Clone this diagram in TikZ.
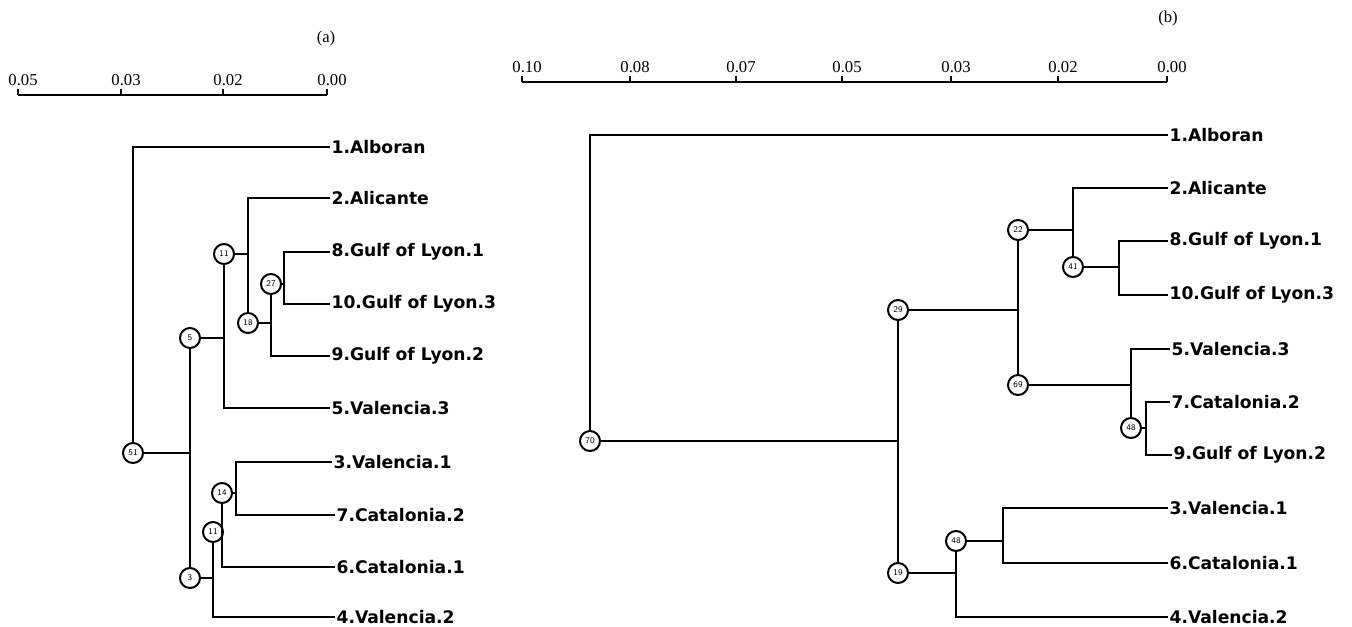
\documentclass[tikz,border=0pt]{standalone}
\usepackage{fontspec}
\setmainfont{Liberation Serif}
\newfontfamily\leaffont{DejaVu Sans Condensed}[FakeStretch=1.1]
\begin{document}
\begin{tikzpicture}[x=0.75pt,y=-0.75pt,
  branch/.style={line width=1.4pt},
  bnode/.style={circle,draw,line width=1.5pt,minimum size=15pt,inner sep=0pt,fill=white,font=\fontsize{6.5}{7}\selectfont\sffamily},
  leaf/.style={anchor=west,inner sep=1pt,font=\leaffont\bfseries\fontsize{13}{14}\selectfont},
  ticklab/.style={inner sep=0pt,font=\fontsize{12.5}{13}\selectfont},
  axis/.style={line width=1.3pt}]
\useasboundingbox (0,0) rectangle (1352,626);
% ---------------- panel (a) ----------------
\node[ticklab] (alab) at (326,38) {(a)};
\coordinate (aa0) at (18,95);
\coordinate (aa3) at (327,95);
\draw[axis] (aa0) -- (aa3);
\foreach \x/\t [count=\i] in {18/0.05,121/0.03,223/0.02,327/0.00}{
  \coordinate (at\i) at (\x,95);
  \draw[axis] (at\i) -- ++(0,-6);
  \node[ticklab] (atl\i) at (\x+5,80) {\t};
}
\node[bnode] (a51) at (133,453) {51};
\node[bnode] (a5) at (190,338) {5};
\node[bnode] (a11) at (224,254) {11};
\node[bnode] (a18) at (248,323) {18};
\node[bnode] (a27) at (271,284) {27};
\node[bnode] (a14) at (222,493) {14};
\node[bnode] (a11b) at (213,532) {11};
\node[bnode] (a3) at (190,578) {3};
\node[leaf] (aL1) at (330,147) {1.Alboran};
\node[leaf] (aL2) at (330,198) {2.Alicante};
\node[leaf] (aL8) at (330,252) {8.Gulf of Lyon.1};
\node[leaf] (aL10) at (330,304) {10.Gulf of Lyon.3};
\node[leaf] (aL9) at (330,356) {9.Gulf of Lyon.2};
\node[leaf] (aL5) at (330,408) {5.Valencia.3};
\node[leaf] (aL3) at (332,462) {3.Valencia.1};
\node[leaf] (aL7) at (335,515) {7.Catalonia.2};
\node[leaf] (aL6) at (335,567) {6.Catalonia.1};
\node[leaf] (aL4) at (335,617) {4.Valencia.2};
\coordinate (ja) at (284,278);
\coordinate (jb) at (236,488);
\begin{scope}[branch]
\draw (a51) |- (aL1);
\draw (a51) -- (a51 -| a5);
\draw (a5) -- (a3);
\draw (a5) -- (a5 -| a11);
\draw (a11) |- (aL5);
\draw (a11) -- (a11 -| a18);
\draw (a18) |- (aL2);
\draw (a18) -- (a18 -| a27);
\draw (a27) |- (aL9);
\draw (a27) -- (a27 -| ja);
\draw (aL8) -| (ja) |- (aL10);
\draw (a3) -- (a3 -| a11b);
\draw (a11b) |- (aL4);
\draw (a11b) -- (a11b -| a14);
\draw (a14) |- (aL6);
\draw (a14) -- (a14 -| jb);
\draw (aL3) -| (jb) |- (aL7);
\end{scope}
% ---------------- panel (b) ----------------
\node[ticklab] (blab) at (1168,18) {(b)};
\coordinate (ba0) at (522,82);
\coordinate (ba6) at (1167,82);
\draw[axis] (ba0) -- (ba6);
\foreach \x/\t [count=\i] in {522/0.10,630/0.08,736/0.07,842/0.05,951/0.03,1058/0.02,1167/0.00}{
  \coordinate (bt\i) at (\x,82);
  \draw[axis] (bt\i) -- ++(0,-6);
  \node[ticklab] (btl\i) at (\x+5,67) {\t};
}
\node[bnode] (b70) at (590,441) {70};
\node[bnode] (b29) at (898,310) {29};
\node[bnode] (b19) at (898,573) {19};
\node[bnode] (b22) at (1018,230) {22};
\node[bnode] (b69) at (1018,385) {69};
\node[bnode] (b41) at (1073,267) {41};
\node[bnode] (b48) at (1131,428) {48};
\node[bnode] (b48b) at (956,541) {48};
\node[leaf] (bL1) at (1168,135) {1.Alboran};
\node[leaf] (bL2) at (1168,188) {2.Alicante};
\node[leaf] (bL8) at (1168,241) {8.Gulf of Lyon.1};
\node[leaf] (bL10) at (1168,295) {10.Gulf of Lyon.3};
\node[leaf] (bL5) at (1170,349) {5.Valencia.3};
\node[leaf] (bL7) at (1170,402) {7.Catalonia.2};
\node[leaf] (bL9) at (1172,455) {9.Gulf of Lyon.2};
\node[leaf] (bL3) at (1168,508) {3.Valencia.1};
\node[leaf] (bL6) at (1168,563) {6.Catalonia.1};
\node[leaf] (bL4) at (1168,617) {4.Valencia.2};
\coordinate (jc) at (1119,268);
\coordinate (jd) at (1146,428);
\coordinate (je) at (1003,536);
\begin{scope}[branch]
\draw (b70) |- (bL1);
\draw (b70) -- (b70 -| b29);
\draw (b29) -- (b19);
\draw (b29) -- (b29 -| b22);
\draw (b22) -- (b69);
\draw (b22) -- (b22 -| b41);
\draw (b41) |- (bL2);
\draw (b41) -- (b41 -| jc);
\draw (bL8) -| (jc) |- (bL10);
\draw (b69) -- (b69 -| b48);
\draw (b48) |- (bL5);
\draw (b48) -- (b48 -| jd);
\draw (bL7) -| (jd) |- (bL9);
\draw (b19) -- (b19 -| b48b);
\draw (b48b) |- (bL4);
\draw (b48b) -- (b48b -| je);
\draw (bL3) -| (je) |- (bL6);
\end{scope}
\end{tikzpicture}
\end{document}
